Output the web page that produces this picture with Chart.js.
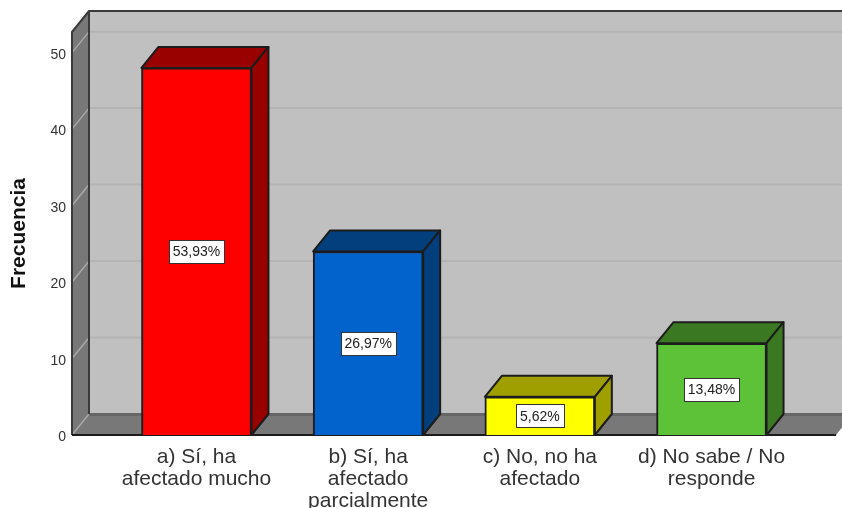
<!DOCTYPE html>
<html><head><meta charset="utf-8">
<style>html,body{margin:0;padding:0;background:#fff;overflow:hidden}canvas{display:block}</style>
<script src="https://cdn.jsdelivr.net/npm/chart.js@4"></script>
</head><body><canvas id="c" width="842" height="508"></canvas>
<script>
const categories = [["a) Sí, ha","afectado mucho"],["b) Sí, ha","afectado","parcialmente"],["c) No, no ha","afectado"],["d) No sabe / No","responde"]];
const frecuencia = [48, 24, 5, 12];
const porcentajes = ["53,93%","26,97%","5,62%","13,48%"];
const frontColors = ["#ff0000","#0263cc","#ffff00","#5ec238"];
const sideColors = ["#990000","#023f7c","#a09f00","#3a7822"];
const DX = 17, DY = -21, INK = "#1c1c1c", WALL = "#787878", BACK = "#c0c0c0";
const FONT = "'Liberation Sans', Arial, sans-serif";

function poly(ctx, pts, fill, stroke, lw) {
  ctx.beginPath();
  pts.forEach((p,i)=> i ? ctx.lineTo(p[0],p[1]) : ctx.moveTo(p[0],p[1]));
  ctx.closePath();
  if (fill) { ctx.fillStyle = fill; ctx.fill(); }
  if (stroke) { ctx.strokeStyle = stroke; ctx.lineWidth = lw || 2; ctx.lineJoin = "round"; ctx.stroke(); }
}

const box3d = {
  id: "box3d",
  beforeDatasetsDraw(chart) {
    const {ctx, chartArea:a, scales:{y}} = chart;
    const W = chart.width + 40;
    ctx.save();
    poly(ctx, [[a.left+DX,a.top+DY],[W,a.top+DY],[W,a.bottom+DY],[a.left+DX,a.bottom+DY]], BACK);
    poly(ctx, [[a.left,a.top],[a.left+DX,a.top+DY],[a.left+DX,a.bottom+DY],[a.left,a.bottom]], WALL);
    poly(ctx, [[a.left,a.bottom],[a.right,a.bottom],[a.right+DX,a.bottom+DY],[a.left+DX,a.bottom+DY]], WALL);
    y.ticks.forEach(t => {
      const py = y.getPixelForValue(t.value);
      if (t.value > 0) {
        ctx.strokeStyle = "#b4b4b4"; ctx.lineWidth = 2;
        ctx.beginPath(); ctx.moveTo(a.left+DX, py+DY); ctx.lineTo(W, py+DY); ctx.stroke();
      }
      ctx.strokeStyle = "#a8a8a8"; ctx.lineWidth = 1.5;
      ctx.beginPath(); ctx.moveTo(a.left, py); ctx.lineTo(a.left+DX, py+DY); ctx.stroke();
    });
    ctx.strokeStyle = "#666"; ctx.lineWidth = 3;
    ctx.beginPath(); ctx.moveTo(a.left+DX, a.bottom+DY+0.5); ctx.lineTo(a.right+DX, a.bottom+DY+0.5); ctx.stroke();
    ctx.strokeStyle = "#3a3a3a"; ctx.lineWidth = 2; ctx.lineJoin = "round";
    ctx.beginPath();
    ctx.moveTo(a.left, a.bottom); ctx.lineTo(a.left, a.top); ctx.lineTo(a.left+DX, a.top+DY); ctx.lineTo(W, a.top+DY);
    ctx.moveTo(a.left+DX, a.top+DY); ctx.lineTo(a.left+DX, a.bottom+DY);
    ctx.stroke();
    ctx.strokeStyle = INK;
    ctx.beginPath(); ctx.moveTo(a.left, a.bottom); ctx.lineTo(a.right, a.bottom); ctx.stroke();
    chart.getDatasetMeta(0).data.forEach((b,i) => {
      const l = b.x - b.width/2, r = b.x + b.width/2, t = b.y, bt = b.base;
      poly(ctx, [[l,t],[r,t],[r+DX,t+DY],[l+DX,t+DY]], sideColors[i], INK, 2);
      poly(ctx, [[r,t],[r+DX,t+DY],[r+DX,bt+DY],[r,bt]], sideColors[i], INK, 2);
    });
    ctx.restore();
  },
  afterDatasetsDraw(chart) {
    const {ctx} = chart;
    ctx.save();
    ctx.font = "14px " + FONT;
    ctx.textAlign = "center"; ctx.textBaseline = "middle";
    chart.getDatasetMeta(0).data.forEach((b,i) => {
      const cx = b.x, cy = (b.y + b.base)/2;
      const w = Math.round(ctx.measureText(porcentajes[i]).width) + 8, h = 23;
      const x = Math.round(cx - w/2) + .5, y = Math.round(cy - h/2) + .5;
      ctx.fillStyle = "#fff"; ctx.fillRect(x,y,w,h);
      ctx.strokeStyle = "#333"; ctx.lineWidth = 1; ctx.strokeRect(x,y,w,h);
      ctx.fillStyle = "#222"; ctx.fillText(porcentajes[i], cx, cy + 1);
    });
    ctx.restore();
  }
};

new Chart(document.getElementById("c"), {
  type: "bar",
  data: { datasets: [{
    data: frecuencia.map((v,i)=>({x:i,y:v})),
    backgroundColor: frontColors,
    borderColor: INK,
    borderWidth: 2,
    barThickness: 110
  }]},
  options: {
    responsive: false, animation: false,
    layout: { padding: { top: 32, right: 6, left: 0, bottom: 0 } },
    plugins: { legend: {display:false}, tooltip: {enabled:false} },
    scales: {
      x: {
        type: "linear", min: -0.725, max: 3.725, offset: false,
        grid: {display:false}, border: {display:false},
        afterBuildTicks: s => { s.ticks = categories.map((_,i)=>({value:i})); },
        afterFit: s => { s.height = 73; },
        ticks: {
          autoSkip:false, maxRotation:0, minRotation:0, padding:3,
          color:"#333", font:{family:FONT,size:21,lineHeight:"22px"},
          callback: v => categories[v]
        }
      },
      y: {
        min: 0, max: 52.7,
        grid: {display:false}, border: {display:false},
        afterFit: s => { s.width = 72; },
        title: { display:true, text:"Frecuencia", color:"#111", font:{family:FONT,size:21,weight:"bold"}, padding:{top:7,bottom:0} },
        ticks: { stepSize:10, includeBounds:false, padding:-2, color:"#333",
                 font:{family:FONT,size:14,lineHeight:"5px"},
                 callback: v => ["", String(v)] }
      }
    }
  },
  plugins: [box3d]
});
</script></body></html>
